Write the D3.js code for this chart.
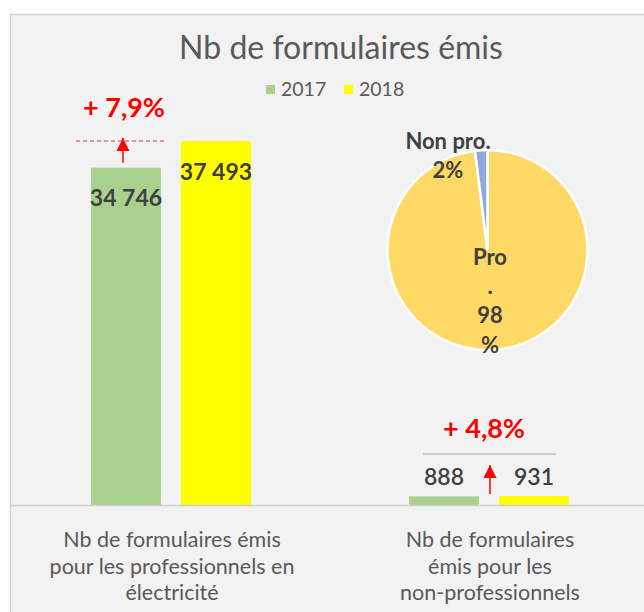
<!DOCTYPE html>
<html>
<head>
<meta charset="utf-8">
<script src="https://cdn.jsdelivr.net/npm/d3@7"></script>
<style>
  body { margin: 0; background: #fff; }
  text { font-family: Lato, "Open Sans", sans-serif; }
</style>
</head>
<body>
<div id="chart-area"></div>
<script>
// Chart data
var categories = ["pro", "nonpro"];
var categoryLabels = [
	["Nb de formulaires émis", "pour les professionnels en", "électricité"],
	["Nb de formulaires", "émis pour les", "non-professionnels"]
];
var years = ["2017", "2018"];
var values2017 = [34746, 888];
var values2018 = [37493, 931];
var valueLabels2017 = ["34 746", "888"];
var valueLabels2018 = ["37 493", "931"];
var growthLabels = ["+ 7,9%", "+ 4,8%"];
var pieNames = ["Pro", "Non pro."];
var pieShares = [98, 2];

var colors = { "2017": "#a9d18e", "2018": "#ffff00" };

var width = 644, height = 612;
var baseY = 505;

var svg = d3.select("#chart-area")
	.append("svg")
		.attr("width", width)
		.attr("height", height);

// background panel
svg.append("rect")
	.attr("x", 10.5).attr("y", 14.5)
	.attr("width", 650).attr("height", 610)
	.attr("fill", "#f2f2f2")
	.attr("stroke", "#d4d4d4")
	.attr("stroke-width", 1.5);

// title
svg.append("text")
	.attr("x", 341).attr("y", 59)
	.attr("text-anchor", "middle")
	.attr("font-size", "32px")
	.attr("fill", "#595959")
	.text("Nb de formulaires émis");

// legend
var legend = svg.selectAll(".legend")
	.data(years)
	.enter().append("g")
		.attr("transform", function(d, i){ return "translate(" + (266 + i * 78) + ",0)"; });
legend.append("rect")
	.attr("x", 0).attr("y", 85)
	.attr("width", 9).attr("height", 9)
	.attr("fill", function(d){ return colors[d]; });
legend.append("text")
	.attr("x", 15).attr("y", 96)
	.attr("font-size", "19.5px")
	.attr("fill", "#595959")
	.text(function(d){ return d; });

// scales
var x = d3.scaleBand()
	.domain(categories)
	.range([12, 648]);

var y = d3.scaleLinear()
	.domain([0, 37493])
	.range([baseY, 141]);

var x2 = d3.scaleBand()
	.domain(years)
	.range([0, 160])
	.paddingInner(0.222);

// bars
var rows = [];
categories.forEach(function(c, i){
	rows.push({ cat: c, year: "2017", value: values2017[i], label: valueLabels2017[i] });
	rows.push({ cat: c, year: "2018", value: values2018[i], label: valueLabels2018[i] });
});

function barX(d){
	return x(d.cat) + x.bandwidth() / 2 - 80 + x2(d.year);
}

svg.selectAll(".bar")
	.data(rows)
	.enter().append("rect")
		.attr("class", "bar")
		.attr("x", barX)
		.attr("y", function(d){ return y(d.value); })
		.attr("width", x2.bandwidth())
		.attr("height", function(d){ return baseY - y(d.value); })
		.attr("fill", function(d){ return colors[d.year]; });

// value labels (inside for big bars, above for small ones)
svg.selectAll(".val")
	.data(rows)
	.enter().append("text")
		.attr("x", function(d){ return barX(d) + x2.bandwidth() / 2; })
		.attr("y", function(d){
			return d.cat === "pro" ? y(d.value) + 38.5 : y(d.value) - 11;
		})
		.attr("text-anchor", "middle")
		.attr("font-size", "23px")
		.attr("font-weight", function(d){ return d.cat === "pro" ? "bold" : "600"; })
		.attr("fill", "#404040")
		.text(function(d){ return d.label; });

// axis line
svg.append("line")
	.attr("x1", 10).attr("x2", 644)
	.attr("y1", baseY + 0.5).attr("y2", baseY + 0.5)
	.attr("stroke", "#d0d0d0")
	.attr("stroke-width", 1.5);

// category labels
categories.forEach(function(c, i){
	svg.append("text")
		.attr("y", 547)
		.attr("text-anchor", "middle")
		.attr("font-size", "21.5px")
		.attr("fill", "#595959")
		.selectAll("tspan")
		.data(categoryLabels[i])
		.enter().append("tspan")
			.attr("x", x(c) + x.bandwidth() / 2 + 1)
			.attr("dy", function(d, j){ return j === 0 ? 0 : 26.5; })
			.text(function(d){ return d; });
});

// arrow marker
svg.append("defs").append("marker")
	.attr("id", "arrow")
	.attr("viewBox", "0 0 10 10")
	.attr("refX", 10).attr("refY", 5)
	.attr("markerUnits", "userSpaceOnUse")
	.attr("markerWidth", 13).attr("markerHeight", 14)
	.attr("orient", "auto")
	.append("path")
		.attr("d", "M0,0 L10,5 L0,10 Z")
		.attr("fill", "#ff0000");

// growth annotation for professionals
var cx0 = x("pro") + x.bandwidth() / 2 - 80 + x2("2017") + x2.bandwidth() / 2;
svg.append("line")
	.attr("x1", 76).attr("x2", 167)
	.attr("y1", y(values2018[0])).attr("y2", y(values2018[0]))
	.attr("stroke", "#e03030")
	.attr("stroke-width", 1.2)
	.attr("stroke-dasharray", "4,3");
svg.append("line")
	.attr("x1", cx0 - 3).attr("x2", cx0 - 3)
	.attr("y1", y(values2017[0]) - 5).attr("y2", y(values2018[0]) - 3)
	.attr("stroke", "#ff0000")
	.attr("stroke-width", 1.5)
	.attr("marker-end", "url(#arrow)");
svg.append("text")
	.attr("x", cx0 - 2).attr("y", 117)
	.attr("text-anchor", "middle")
	.attr("font-size", "27px")
	.attr("font-weight", "bold")
	.attr("fill", "#ff0000")
	.text(growthLabels[0]);

// growth annotation for non-professionals
var cx1 = x("nonpro") + x.bandwidth() / 2;
svg.append("line")
	.attr("x1", cx1 - 66).attr("x2", cx1 + 67)
	.attr("y1", 454).attr("y2", 454)
	.attr("stroke", "#a6a6a6");
svg.append("line")
	.attr("x1", cx1 + 1).attr("x2", cx1 + 1)
	.attr("y1", 494).attr("y2", 465)
	.attr("stroke", "#ff0000")
	.attr("stroke-width", 1.5)
	.attr("marker-end", "url(#arrow)");
svg.append("text")
	.attr("x", cx1 - 5).attr("y", 438)
	.attr("text-anchor", "middle")
	.attr("font-size", "27px")
	.attr("font-weight", "bold")
	.attr("fill", "#ff0000")
	.text(growthLabels[1]);

// pie of share pro / non pro
var pieData = pieNames.map(function(n, i){ return { name: n, value: pieShares[i] }; });
var pie = d3.pie().sort(null).value(function(d){ return d.value; });
var arc = d3.arc().innerRadius(0).outerRadius(100);
var pieG = svg.append("g").attr("transform", "translate(487.5,250)");
pieG.selectAll("path")
	.data(pie(pieData))
	.enter().append("path")
		.attr("d", arc)
		.attr("fill", function(d, i){ return i === 0 ? "#ffd966" : "#8faadc"; })
		.attr("stroke", "#ffffff")
		.attr("stroke-width", 2.5);

// pie labels
var proLines = [pieNames[0], ".", pieShares[0], "%"];
svg.append("text")
	.attr("text-anchor", "middle")
	.attr("font-size", "22px")
	.attr("font-weight", "bold")
	.attr("fill", "#404040")
	.selectAll("tspan")
	.data(proLines)
	.enter().append("tspan")
		.attr("x", 490)
		.attr("y", function(d, i){ return [265, 294, 323, 353][i]; })
		.text(function(d){ return d; });

svg.append("text")
	.attr("text-anchor", "middle")
	.attr("font-size", "22px")
	.attr("font-weight", "bold")
	.attr("fill", "#404040")
	.selectAll("tspan")
	.data([pieNames[1], pieShares[1] + "%"])
	.enter().append("tspan")
		.attr("x", 448)
		.attr("y", function(d, i){ return i === 0 ? 149 : 178; })
		.text(function(d){ return d; });
</script>
</body>
</html>
